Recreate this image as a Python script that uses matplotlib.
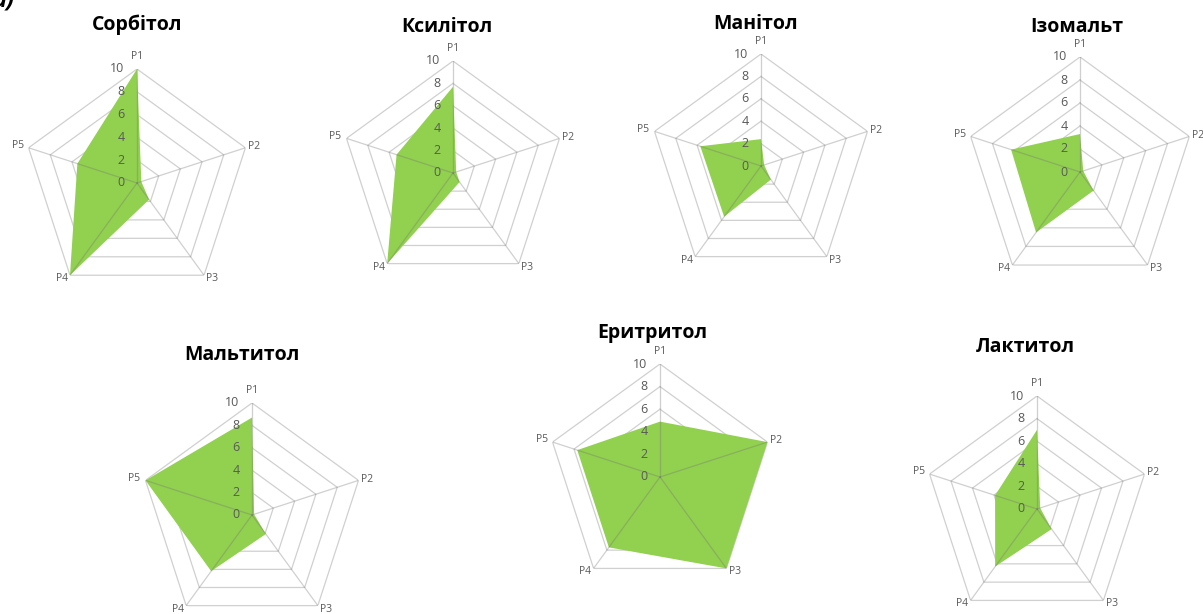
import numpy as np
import matplotlib.pyplot as plt

plt.rcParams['font.family'] = ['Open Sans', 'DejaVu Sans']

W, H = 1203, 614

labels = ['P1', 'P2', 'P3', 'P4', 'P5']
ticks = [0, 2, 4, 6, 8, 10]

titles = ['Сорбітол', 'Ксилітол', 'Манітол', 'Ізомальт',
          'Мальтитол', 'Еритритол', 'Лактитол']

sorbitol = [10, 0.4, 1.8, 10, 5.5]
ksylitol = [7.7, 0.3, 1.0, 10, 5.3]
manitol = [2.4, 0.3, 1.5, 5.6, 5.7]
izomalt = [3.3, 0.3, 2.0, 6.5, 6.3]
maltitol = [8.7, 0.2, 2.1, 6.2, 10]
erytritol = [4.9, 10, 10, 7.7, 7.7]
laktytol = [7.0, 0.3, 2.2, 6.3, 3.9]
series = [sorbitol, ksylitol, manitol, izomalt, maltitol, erytritol, laktytol]

# placement of each radar in pixels: centre x, centre y, radius
cx = [137, 453, 761, 1080, 252, 660, 1037]
cy = [183, 173, 166, 172, 515, 477, 509]
rad = [114, 112, 112, 115, 112, 113, 113]
# title positions in pixels
tx = [137, 447, 756, 1077, 242, 652, 1025]
ty = [25, 27, 24, 27, 355, 333, 347]

green = '#92d050'
grid = '#d0d0d0'
txt = '#595959'

# offsets (points) and alignment for P1..P5 labels
lab_off = [(0, 9), (2, 1), (1.5, -2.5), (-1.5, -2.5), (-3.5, 1.5)]
lab_ha = ['center', 'left', 'left', 'right', 'right']

theta = np.arange(5) * 2 * np.pi / 5
theta_c = np.append(theta, theta[0])

fig = plt.figure(figsize=(W / 100, H / 100), dpi=100)

for i, vals in enumerate(series):
    r = rad[i]
    ax = fig.add_axes([(cx[i] - r) / W, (H - cy[i] - r) / H, 2 * r / W, 2 * r / H],
                      projection='polar')
    ax.set_theta_zero_location('N')
    ax.set_theta_direction(-1)
    ax.set_ylim(0, 10)
    ax.axis('off')

    for t in ticks[1:]:
        ax.plot(theta_c, [t] * 6, color=grid, lw=0.9, zorder=1)
    v = np.append(vals, vals[0])
    ax.fill(theta_c, v, color=green, lw=0, zorder=2)
    # spokes drawn over the fill, translucent so they look darker on green
    for a in theta:
        ax.plot([a, a], [0, 10], color='#707070', alpha=0.33, lw=0.9, zorder=3)
    for t in ticks:
        ax.annotate(str(t), xy=(0, t), xytext=(-9, 0), textcoords='offset points',
                    ha='right', va='center', fontsize=9, color=txt, zorder=4,
                    annotation_clip=False)
    for k, a in enumerate(theta):
        ax.annotate(labels[k], xy=(a, 10), xytext=lab_off[k], textcoords='offset points',
                    ha=lab_ha[k], va='center', fontsize=7.5, color=txt,
                    annotation_clip=False)

    fig.text(tx[i] / W, 1 - ty[i] / H, titles[i], ha='center', va='center',
             fontsize=14, fontweight='bold', color='black')

fig.text(15 / W, 1.0, 'а)', ha='right', va='center', fontsize=17,
         fontweight='bold', fontstyle='italic', color='black')

fig.savefig('out.png', dpi=100)
